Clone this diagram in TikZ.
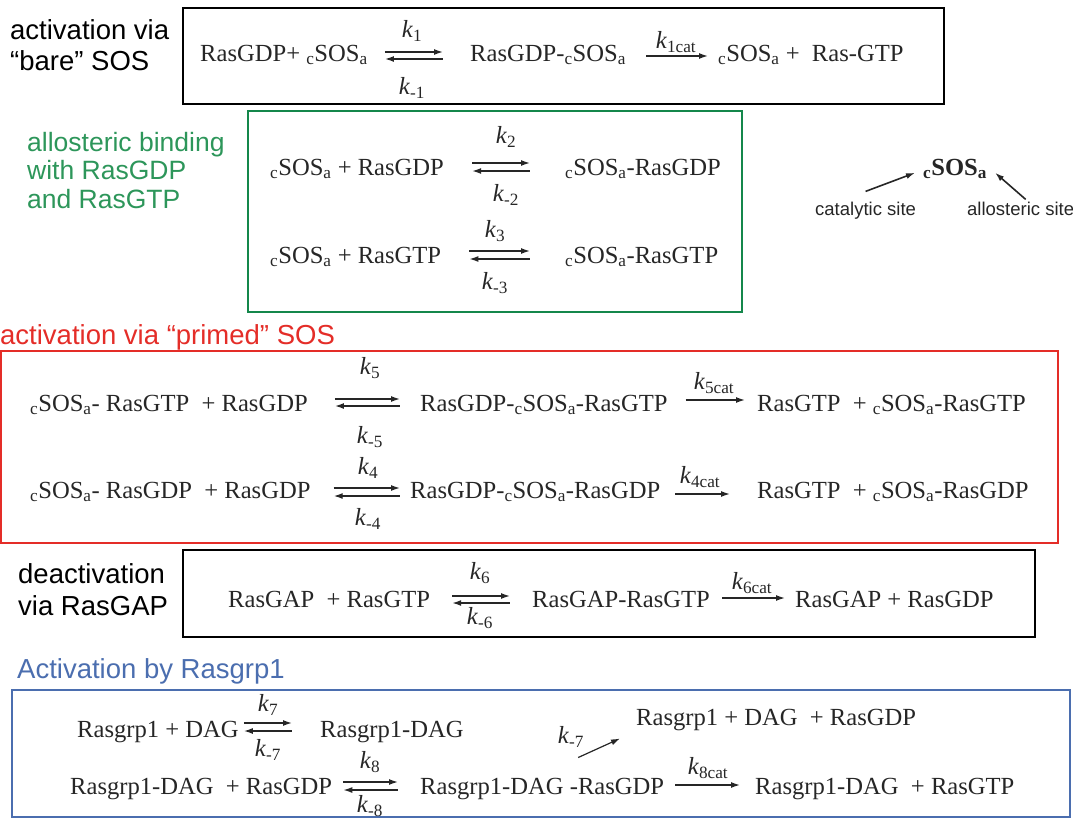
\documentclass[tikz,border=0pt]{standalone}
\usepackage{fontspec}
\setmainfont{Liberation Serif}
\setsansfont{Liberation Sans}
\usetikzlibrary{arrows.meta,positioning}

\definecolor{sosgreen}{RGB}{20,135,75}
\definecolor{sosgreentext}{RGB}{45,150,90}
\definecolor{primedred}{RGB}{228,45,40}
\definecolor{grpblue}{RGB}{75,110,175}

\newcommand{\csosa}{\textsubscript{c}SOS\textsubscript{a}}
\newcommand{\kk}[1]{\textit{k}\textsubscript{#1}}

\tikzset{
  species/.style={inner sep=0pt, anchor=base west, text=black!85,
    font=\fontsize{24.6}{29}\selectfont},
  rate/.style={inner sep=0pt, text=black!85, font=\fontsize{24.6}{29}\selectfont},
  topic/.style={inner sep=0pt, anchor=base west, align=left,
    font=\sffamily\fontsize{27.5}{31}\selectfont},
  site/.style={inner sep=0pt, anchor=base west, text=black!85,
    font=\sffamily\fontsize{18.5}{20}\selectfont},
  panel/.style={line width=2.6pt},
  fwd/.style={-{Latex[length=9pt,width=6pt]}, line width=1.4pt, black!85},
  bwd/.style={{Latex[length=9pt,width=6pt]}-, line width=1.4pt, black!85}
}

\begin{document}
\begin{tikzpicture}[x=1pt,y=-1pt]
  \useasboundingbox (0,0) rectangle (1073,819);

  % bare SOS
  \draw[panel] (183,8) rectangle (944,104);
  \node[topic] (bare) at (10,70) {activation via\\“bare” SOS};
  \node[species] (r1a) at (200,61) {RasGDP+ \csosa};
  \node[species] (r1b) at (470,61) {RasGDP-\csosa};
  \node[species] (r1c) at (718,61) {\csosa\ + \ Ras-GTP};
  \draw[fwd, shorten <=17pt, shorten >=27pt] ([yshift=9pt]r1a.base east) -- ([yshift=9pt]r1b.base west);
  \draw[bwd, shorten <=17pt, shorten >=27pt] ([yshift=2pt]r1a.base east) -- ([yshift=2pt]r1b.base west);
  \draw[fwd, shorten <=20pt, shorten >=10pt] ([yshift=5pt]r1b.base east) -- ([yshift=5pt]r1c.base west);
  \node[rate] (k1f) at (412,31) {\kk{1}};
  \node[rate] (k1b) at (412,88) {\kk{-1}};
  \node[rate] (k1c) at (676,42) {\kk{1cat}};

  % allosteric binding
  \draw[panel, sosgreen] (248,111) rectangle (742,312);
  \node[topic, text=sosgreentext, font=\sffamily\fontsize{26.5}{28.5}\selectfont] (allost) at (27,208)
    {allosteric binding\\with RasGDP\\and RasGTP};
  \node[species] (r2a) at (270,175) {\csosa\ + RasGDP};
  \node[species] (r2b) at (565,175) {\csosa-RasGDP};
  \draw[fwd, shorten <=28pt, shorten >=35pt] ([yshift=12pt]r2a.base east) -- ([yshift=12pt]r2b.base west);
  \draw[bwd, shorten <=28pt, shorten >=35pt] ([yshift=4pt]r2a.base east) -- ([yshift=4pt]r2b.base west);
  \node[rate] (k2f) at (506,137) {\kk{2}};
  \node[rate] (k2b) at (506,195) {\kk{-2}};

  \node[species] (r3a) at (270,263) {\csosa\ + RasGTP};
  \node[species] (r3b) at (565,263) {\csosa-RasGTP};
  \draw[fwd, shorten <=28pt, shorten >=35pt] ([yshift=12pt]r3a.base east) -- ([yshift=12pt]r3b.base west);
  \draw[bwd, shorten <=28pt, shorten >=35pt] ([yshift=4pt]r3a.base east) -- ([yshift=4pt]r3b.base west);
  \node[rate] (k3f) at (495,231) {\kk{3}};
  \node[rate] (k3b) at (495,283) {\kk{-3}};

  % the two sites
  \node[species, font=\fontsize{24.6}{28}\selectfont\bfseries] (sos) at (923,175) {\csosa};
  \node[site] (cat) at (815,215) {catalytic site};
  \node[site] (allo) at (967,215) {allosteric site};
  \draw[fwd, line width=1.6pt] ([yshift=10pt]cat.north) -- ([xshift=-8pt,yshift=-4pt]sos.west);
  \draw[fwd, line width=1.6pt] ([xshift=5pt,yshift=2pt]allo.north) -- ([xshift=8pt,yshift=-4pt]sos.east);

  % primed SOS
  \node[topic, text=primedred] (primed) at (0,344) {activation via “primed” SOS};
  \draw[panel, primedred, line width=2.2pt] (1,351) rectangle (1058,543);
  \node[species] (r5a) at (30,411) {\csosa- RasGTP\ \ + RasGDP};
  \node[species] (r5b) at (420,411) {RasGDP-\csosa-RasGTP};
  \node[species] (r5c) at (757,411) {RasGTP\ \ + \csosa-RasGTP};
  \draw[fwd, shorten <=27pt, shorten >=20pt] ([yshift=12pt]r5a.base east) -- ([yshift=12pt]r5b.base west);
  \draw[bwd, shorten <=27pt, shorten >=20pt] ([yshift=5pt]r5a.base east) -- ([yshift=5pt]r5b.base west);
  \draw[fwd, shorten <=18pt, shorten >=12pt] ([yshift=11pt]r5b.base east) -- ([yshift=11pt]r5c.base west);
  \node[rate] (k5f) at (370,368) {\kk{5}};
  \node[rate] (k5b) at (370,437) {\kk{-5}};
  \node[rate] (k5c) at (714,383) {\kk{5cat}};

  \node[species] (r4a) at (30,498) {\csosa- RasGDP\ \ + RasGDP};
  \node[species] (r4b) at (410,498) {RasGDP-\csosa-RasGDP};
  \node[species] (r4c) at (757,498) {RasGTP\ \ + \csosa-RasGDP};
  \draw[fwd, shorten <=23pt, shorten >=10pt] ([yshift=10pt]r4a.base east) -- ([yshift=10pt]r4b.base west);
  \draw[bwd, shorten <=23pt, shorten >=10pt] ([yshift=2pt]r4a.base east) -- ([yshift=2pt]r4b.base west);
  \draw[fwd, shorten <=15pt, shorten >=27pt] ([yshift=4pt]r4b.base east) -- ([yshift=4pt]r4c.base west);
  \node[rate] (k4f) at (368,468) {\kk{4}};
  \node[rate] (k4b) at (368,519) {\kk{-4}};
  \node[rate] (k4c) at (700,477) {\kk{4cat}};

  % RasGAP
  \draw[panel] (183,550) rectangle (1035,637);
  \node[topic, font=\sffamily\fontsize{27.5}{32}\selectfont] (gap) at (18,615) {deactivation\\via RasGAP};
  \node[species] (r6a) at (228,607) {RasGAP\ \ + RasGTP};
  \node[species] (r6b) at (532,607) {RasGAP-RasGTP};
  \node[species] (r6c) at (795,607) {RasGAP + RasGDP};
  \draw[fwd, shorten <=22pt, shorten >=22pt] ([yshift=11pt]r6a.base east) -- ([yshift=11pt]r6b.base west);
  \draw[bwd, shorten <=22pt, shorten >=22pt] ([yshift=4pt]r6a.base east) -- ([yshift=4pt]r6b.base west);
  \draw[fwd, shorten <=12pt, shorten >=10pt] ([yshift=9pt]r6b.base east) -- ([yshift=9pt]r6c.base west);
  \node[rate] (k6f) at (480,573) {\kk{6}};
  \node[rate] (k6b) at (480,618) {\kk{-6}};
  \node[rate] (k6c) at (752,583) {\kk{6cat}};

  % Rasgrp1
  \node[topic, text=grpblue] (grp) at (17,678) {Activation by Rasgrp1};
  \draw[panel, grpblue, line width=2.2pt] (12,690) rectangle (1070,817);
  \node[species] (r7a) at (77,737) {Rasgrp1 + DAG};
  \node[species] (r7b) at (320,737) {Rasgrp1-DAG};
  \node[species] (r7c) at (636,725) {Rasgrp1 + DAG\ \ + RasGDP};
  \draw[fwd, shorten <=5pt, shorten >=28pt] ([yshift=14pt]r7a.base east) -- ([yshift=14pt]r7b.base west);
  \draw[bwd, shorten <=5pt, shorten >=28pt] ([yshift=6pt]r7a.base east) -- ([yshift=6pt]r7b.base west);
  \node[rate] (k7f) at (268,705) {\kk{7}};
  \node[rate] (k7b) at (268,750) {\kk{-7}};

  \node[species] (r8a) at (70,794) {Rasgrp1-DAG\ \ + RasGDP};
  \node[species] (r8b) at (420,794) {Rasgrp1-DAG -RasGDP};
  \node[species] (r8c) at (755,794) {Rasgrp1-DAG\ \ + RasGTP};
  \draw[fwd, shorten <=11pt, shorten >=22pt] ([yshift=12pt]r8a.base east) -- ([yshift=12pt]r8b.base west);
  \draw[bwd, shorten <=11pt, shorten >=22pt] ([yshift=4pt]r8a.base east) -- ([yshift=4pt]r8b.base west);
  \draw[fwd, shorten <=11pt, shorten >=15pt] ([yshift=9pt]r8b.base east) -- ([yshift=9pt]r8c.base west);
  \node[rate] (k8f) at (370,762) {\kk{8}};
  \node[rate] (k8b) at (370,806) {\kk{-8}};
  \node[rate] (k8c) at (708,768) {\kk{8cat}};

  \draw[fwd, line width=1.2pt] ([xshift=36pt,yshift=20pt]r8b.north) -- ([xshift=-16pt,yshift=-19pt]r7c.west);
  \node[rate] (k7d) at (571,737) {\kk{-7}};

\end{tikzpicture}
\end{document}
